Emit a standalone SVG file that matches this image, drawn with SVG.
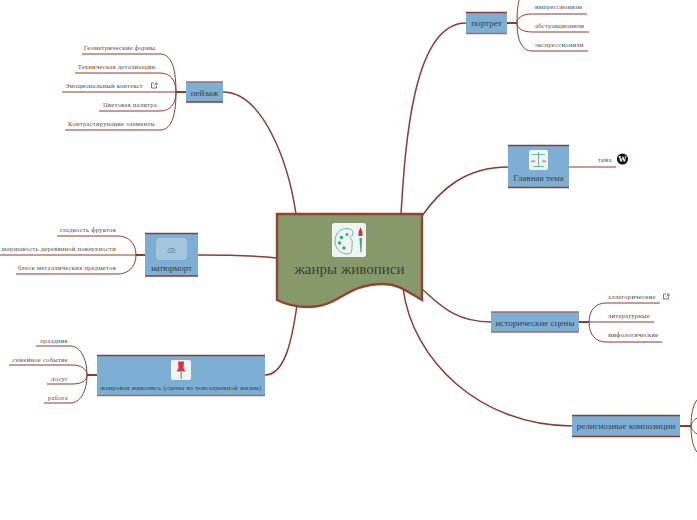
<svg xmlns="http://www.w3.org/2000/svg" width="697" height="520" viewBox="0 0 697 520">
<style>
text{font-family:"Liberation Serif","DejaVu Serif",serif;fill:#3a3a3a}
.t{font-size:9.100px;text-anchor:middle;fill:#2f3b45;opacity:.95}
.l{font-size:6.600px;text-anchor:end;letter-spacing:.25px;fill:#444;opacity:.95}
.r{font-size:6.600px;letter-spacing:.25px;fill:#444;opacity:.95}
.main{fill:none;stroke:#8b3c2e;stroke-width:1.500}
.sub{fill:none;stroke:#8b3c2e;stroke-width:1}
.stem{fill:none;stroke:#8b3c2e;stroke-width:2}
.box{fill:#7dafd5}
.edge{stroke:#8b3c2e;stroke-width:1.400}
.edgeb{stroke:#9b6f69;stroke-width:1.400}
.ico{fill:#f2f4f0}
.ext{fill:none;stroke:#555;stroke-width:.8}
</style>

<g id="connectors">
<path class="main" d="M296 214C288 160 262 92 223 92"/>
<path class="main" d="M401 214C405 150 412 23 466 23"/>
<path class="main" d="M422 216C440 190 465 167 508 167"/>
<path class="main" d="M277 258C250 255 225 255 197 255"/>
<path class="main" d="M297 305C292 340 285 375 265 375"/>
<path class="main" d="M422 289C440 305 455 322 491 322"/>
<path class="main" d="M403 288C412 360 480 426 572 426"/>

<path class="stem" d="M176 92H186"/>
<path class="sub" d="M82 54H160C170 54 176 65 176 92"/>
<path class="sub" d="M75 73H160C170 73 176 80 176 92"/>
<path class="sub" d="M62 92H176"/>
<path class="sub" d="M99 111H160C170 111 176 104 176 92"/>
<path class="sub" d="M65 130H160C170 130 176 119 176 92"/>

<path class="stem" d="M136 255H146"/>
<path class="sub" d="M57 236H118C128 236 136 243 136 255"/>
<path class="sub" d="M0 255H136"/>
<path class="sub" d="M16 274H118C128 274 136 267 136 255"/>

<path class="stem" d="M87 375H97"/>
<path class="sub" d="M36 346H70C80 346 87 358 87 375"/>
<path class="sub" d="M9 365H72C81 365 87 369 87 375"/>
<path class="sub" d="M47 384H72C81 384 87 381 87 375"/>
<path class="sub" d="M44 403H70C80 403 87 392 87 375"/>

<path class="stem" d="M507 23H517"/>
<path class="sub" d="M522 -8C518 0 517 10 517 23"/>
<path class="sub" d="M587 14H532C522 14 517 18 517 23"/>
<path class="sub" d="M589 32H532C522 32 517 28 517 23"/>
<path class="sub" d="M588 51H532C522 51 517 40 517 23"/>

<path class="sub" d="M569 167H616"/>

<path class="stem" d="M579 322H589"/>
<path class="sub" d="M660 303H606C596 303 589 310 589 322"/>
<path class="sub" d="M654 322H589"/>
<path class="sub" d="M662 342H606C596 342 589 335 589 322"/>

<path class="stem" d="M680 426H691"/>
<path class="sub" d="M697 400C693 405 691 414 691 426"/>
<path class="sub" d="M697 418C694 420 691 423 691 426"/>
<path class="sub" d="M697 434C694 432 691 429 691 426"/>
<path class="sub" d="M697 452C693 447 691 438 691 426"/>
</g>

<g id="root">
<path d="M277 214H422V300C405 290 398 284 383 284C345 284 340 307 308 307C296 307 285 304 277 300Z" fill="#85996a" stroke="#93432f" stroke-width="2.400"/>
<rect class="ico" x="332" y="223" width="34" height="34" rx="2.500"/>
<path d="M350 229C341 227 335 233 335 241C335 250 342 254 348 254C352 254 352 249 352 246C352 243 353 241 351 239C348 238 353 236 353 233C353 231 352 230 350 229Z" fill="none" stroke="#4bb3a6" stroke-width=".9"/>
<circle cx="341.500" cy="237.500" r="1.800" fill="#35a698"/>
<circle cx="339.500" cy="243" r="1.800" fill="#35a698"/>
<circle cx="344" cy="248" r="1.800" fill="#35a698"/>
<circle cx="347" cy="234.500" r="1.500" fill="#35a698"/>
<path d="M359.500 238H362L361.500 252L360.500 253Z" fill="#35a698"/>
<path d="M358.500 233C358.500 231 360 229 360.500 227C361 229 362.500 231 362.500 233V236H358.500Z" fill="#c8324f"/>
<text x="349.500" y="274" font-size="15" text-anchor="middle" fill="#333" opacity=".95">жанры живописи</text>
</g>

<g id="n-landscape">
<rect class="box" x="186" y="82" width="37" height="20"/>
<path class="edgeb" d="M186 82H223"/><path class="edge" d="M186 102H223"/>
<text class="t" x="204.500" y="96">пейзаж</text>
</g>
<g id="landscape-leaves">
<text class="l" x="157" y="50">Геометрические формы.</text>
<text class="l" x="157" y="69">Техническая детализация.</text>
<text class="l" x="143" y="88">Эмоциональный контекст</text>
<path class="ext" d="M154 83H151.500V88H156.500V85.500M154.500 85.500L156.500 83.500M155 83H157V85"/>
<text class="l" x="157" y="107">Цветовая палитра</text>
<text class="l" x="155" y="126">Контрастирующие элементы</text>
</g>

<g id="n-stilllife">
<rect class="box" x="145" y="233" width="53" height="43"/>
<path class="edge" d="M145 233.500H198M145 276H198"/>
<rect x="156" y="238" width="31" height="22" rx="4" fill="#a3c5dd"/>
<path d="M168 250.500L169 248.500H174L175 250.500V252.500H168Z" fill="none" stroke="#7793a8" stroke-width=".9"/>
<circle cx="171.500" cy="250" r="1.600" fill="none" stroke="#7793a8" stroke-width=".8"/>
<text class="t" x="171.500" y="271" style="font-size:8.700px">натюрморт</text>
</g>
<g id="stilllife-leaves">
<text class="l" x="116" y="232">гладкость фруктов</text>
<text class="l" x="116" y="251">шершавость деревянной поверхности</text>
<text class="l" x="116" y="270">блеск металлических предметов</text>
</g>

<g id="n-genre">
<rect class="box" x="97" y="355" width="168" height="41"/>
<path class="edge" d="M97 355.500H265"/><path class="edgeb" d="M97 395.500H265"/>
<rect class="ico" x="171" y="360" width="20" height="20" rx="2"/>
<path d="M178 361.500H184L183.500 368L185.500 371.500H176.500L178.500 368Z" fill="#d8334a"/>
<rect x="180.500" y="371.500" width="1.400" height="7.500" fill="#56b8a6"/>
<text class="t" x="181" y="390" style="font-size:6.800px" letter-spacing=".2">жанровая живопись (сцены из повседневной жизни)</text>
</g>
<g id="genre-leaves">
<text class="l" x="68" y="343">праздник</text>
<text class="l" x="68" y="362">семейное событие</text>
<text class="l" x="68" y="381">досуг</text>
<text class="l" x="68" y="400">работа</text>
</g>

<g id="n-portrait">
<rect class="box" x="466" y="12" width="41" height="22"/>
<path class="edge" d="M466 12.500H507"/><path class="edgeb" d="M466 33.500H507"/>
<text class="t" x="486.500" y="26">портрет</text>
</g>
<g id="portrait-leaves">
<text class="r" x="535" y="9">импрессионизм</text>
<text class="r" x="535" y="28">абстракционизм</text>
<text class="r" x="535" y="47">экспрессионизм</text>
</g>

<g id="n-theme">
<rect class="box" x="508" y="145" width="61" height="43"/>
<path class="edge" d="M508 145.500H569"/><path class="edge" d="M508 187.500H569"/>
<rect class="ico" x="529" y="150" width="19" height="20" rx="2"/>
<path d="M538.500 152V166M533 166.500H544M532 154.500H545" fill="none" stroke="#55b3a4" stroke-width=".9"/>
<path d="M530.500 160.500C531.500 163 534.500 163 535.500 160.500ZM541.500 160.500C542.500 163 545.500 163 546.500 160.500Z" fill="#df7f8e"/>
<text class="t" x="538.500" y="181">Главная тема</text>
</g>
<g id="theme-leaf">
<text class="r" x="598" y="162">тема</text>
<circle cx="622.500" cy="159" r="5.600" fill="#111"/>
<text x="622.500" y="162" font-size="8.500" font-weight="bold" text-anchor="middle" style="fill:#fff">W</text>
</g>

<g id="n-history">
<rect class="box" x="491" y="312" width="88" height="20"/>
<path class="edgeb" d="M491 312H579"/><path class="edgeb" d="M491 332H579"/>
<text class="t" x="535" y="326">исторические сцены</text>
</g>
<g id="history-leaves">
<text class="r" x="608" y="299">аллегорические</text>
<path class="ext" d="M666 294H663.500V299H668.500V296.500M666.500 296.500L668.500 294.500M667 294H669V296"/>
<text class="r" x="608" y="318">литературные</text>
<text class="r" x="608" y="337">мифологические</text>
</g>

<g id="n-religion">
<rect class="box" x="572" y="415" width="108" height="22"/>
<path class="edge" d="M572 415.500H680M572 436.500H680"/>
<text class="t" x="626" y="429">религиозные композиции</text>
</g>
</svg>
